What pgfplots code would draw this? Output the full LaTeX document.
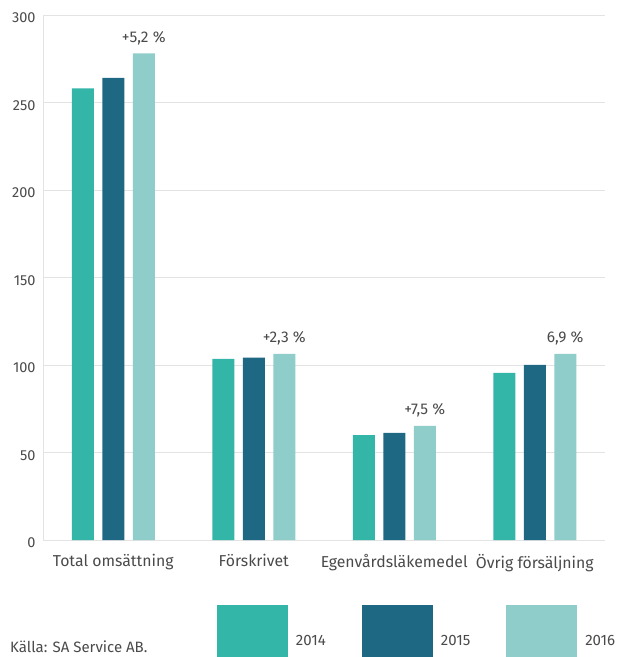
\documentclass[border=0pt]{standalone}
\usepackage{fontspec}
\setmainfont{Fira Sans}
\usepackage{pgfplots}
\pgfplotsset{compat=1.18}
\definecolor{c14}{HTML}{33B5A8}
\definecolor{c15}{HTML}{1F6884}
\definecolor{c16}{HTML}{8ECDC9}
\definecolor{txt}{HTML}{4A4A4A}
\definecolor{gridc}{HTML}{E3E3E3}
\pgfplotsset{mylegend/.style={legend image code/.code={\fill[##1] (0bp,-16bp) rectangle (71bp,36bp);}}}
\begin{document}
\begin{tikzpicture}
\useasboundingbox (-43bp,-117bp) rectangle (577bp,540bp);
\begin{axis}[
  at={(0,0)}, anchor=south west,
  scale only axis, width=562bp, height=525bp,
  xmin=-0.5, xmax=3.5, ymin=0, ymax=300,
  xtick={0,1,2,3},
  xticklabels={Total omsättning, Förskrivet, Egenvårdsläkemedel, Övrig försäljning},
  ytick={0,50,...,300},
  ymajorgrids, grid style={gridc, line width=0.8bp},
  axis x line*=bottom, axis y line*=left,
  axis line style={gridc, line width=0.8bp},
  major tick length=0pt,
  tick style={draw=none},
  /pgf/number format/assume math mode=true,
  ticklabel style={font=\fontsize{14.5bp}{16bp}\selectfont, text=txt},
  yticklabel style={yshift=-3bp, xshift=-4bp},
  xticklabel style={yshift=-11bp, font=\fontsize{15.8bp}{17bp}\selectfont},
  ybar, bar width=22bp,
  legend columns=3,
  legend style={at={(174/562,-65/525)}, anchor=north west, draw=none, fill=none,
    inner sep=0pt, outer sep=0pt,
    nodes={inner sep=0pt, font=\fontsize{15bp}{17bp}\selectfont, text=txt},
    /tikz/every odd column/.append style={column sep=8bp},
    /tikz/every even column/.append style={column sep=36bp}},
]
\addplot[fill=c14, draw=none, bar shift=-30.5bp, mylegend] coordinates {(0,258) (1,103.5) (2,60) (3,95.5)};
\addplot[fill=c15, draw=none, bar shift=0bp, mylegend] coordinates {(0,264) (1,104.2) (2,61.2) (3,100)};
\addplot[fill=c16, draw=none, bar shift=30.5bp, mylegend,
  nodes near coords, point meta=explicit symbolic,
  nodes near coords style={anchor=base, yshift=11bp, font=\fontsize{15.5bp}{17bp}\selectfont, text=txt}]
  coordinates {(0,278) [+5,2 \%] (1,106.3) [+2,3 \%] (2,65.2) [+7,5 \%] (3,106.3) [6,9 \%]};
\legend{2014,2015,2016}
\end{axis}
\node[anchor=base west, inner sep=0pt, font=\fontsize{15bp}{17bp}\selectfont, text=txt] at (-33bp,-112bp) {Källa: SA Service AB.};
\end{tikzpicture}
\end{document}
